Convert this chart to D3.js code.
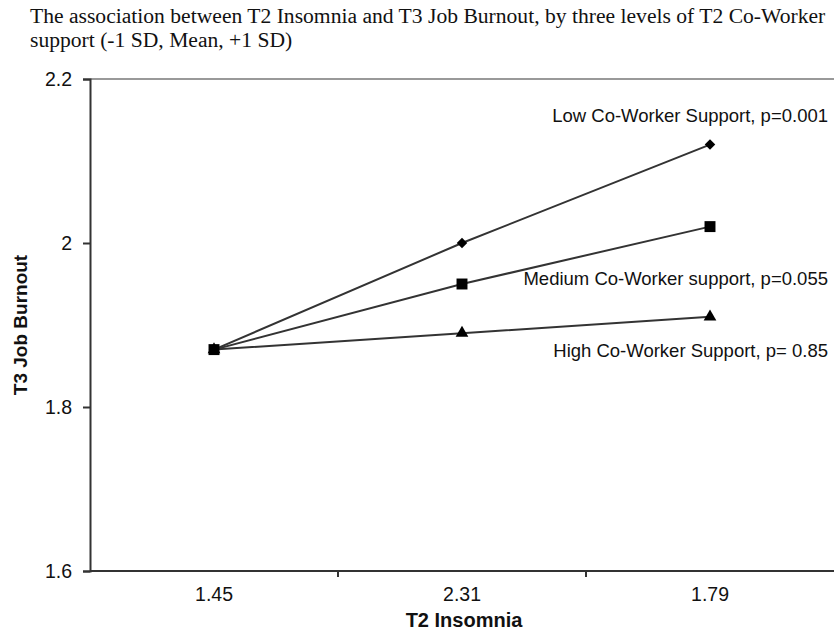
<!DOCTYPE html>
<html>
<head>
<meta charset="utf-8">
<script src="https://cdn.jsdelivr.net/npm/d3@7"></script>
<style>
  body { margin: 0; background: #fff; }
  svg text { fill: #111; }
</style>
</head>
<body>
<div id="chart"></div>
<script>
// data
const categories = ["1.45", "2.31", "1.79"];
const yTicks = [1.6, 1.8, 2.0, 2.2];
const lowSupport = [1.87, 2.0, 2.12];
const medSupport = [1.87, 1.95, 2.02];
const highSupport = [1.87, 1.89, 1.91];
const seriesNames = ["Low Co-Worker Support, p=0.001", "Medium Co-Worker support, p=0.055", "High Co-Worker Support, p= 0.85"];
const titleLines = ["The association between T2 Insomnia and T3 Job Burnout, by three levels of T2 Co-Worker",
                    "support (-1 SD, Mean, +1 SD)"];

const W = 834, H = 634;
const margin = {top: 79, right: 0, bottom: 63, left: 90};
const sans = "'Liberation Sans', Arial, sans-serif";

const svg = d3.select("#chart").append("svg")
  .attr("width", W).attr("height", H);

// title
svg.append("g").selectAll("text")
  .data(titleLines)
  .enter().append("text")
  .attr("x", 30)
  .attr("y", (d, i) => 23 + i * 24)
  .style("font-family", "'Liberation Serif', 'Times New Roman', serif")
  .style("font-size", "21.6px")
  .text(d => d);

const x = d3.scaleBand()
  .domain(categories)
  .range([margin.left, margin.left + 3 * 248]);

const y = d3.scaleLinear()
  .domain([1.6, 2.2])
  .range([H - margin.bottom, margin.top]);

// top gridline
svg.append("line")
  .attr("x1", margin.left).attr("x2", W)
  .attr("y1", y(2.2)).attr("y2", y(2.2))
  .attr("stroke", "#999").attr("stroke-width", 2);

// y axis
const yAxis = svg.append("g")
  .attr("transform", "translate(" + margin.left + ",0)")
  .call(d3.axisLeft(y).tickValues(yTicks).tickSize(7).tickPadding(11)
    .tickFormat(d => d === 2 ? "2" : d3.format(".1f")(d)));
yAxis.select(".domain").attr("stroke", "#333").attr("stroke-width", 2);
yAxis.selectAll(".tick line").attr("stroke", "#333").attr("stroke-width", 2);
yAxis.selectAll("text")
  .style("font-family", sans)
  .style("font-size", "19.5px");

// x axis
const xAxis = svg.append("g")
  .attr("transform", "translate(0," + y(1.6) + ")")
  .call(d3.axisBottom(x).tickSize(0).tickPadding(16));
xAxis.select(".domain").attr("stroke", "#333").attr("stroke-width", 2)
  .attr("d", "M" + margin.left + ",0H" + W);
xAxis.selectAll("text")
  .style("font-family", sans)
  .style("font-size", "19.5px");

// category boundary ticks
svg.append("g").selectAll("line")
  .data(categories.slice(1))
  .enter().append("line")
  .attr("x1", d => x(d)).attr("x2", d => x(d))
  .attr("y1", y(1.6)).attr("y2", y(1.6) + 6)
  .attr("stroke", "#333").attr("stroke-width", 2);

// axis titles
svg.append("text")
  .attr("transform", "translate(27," + (y(1.9)) + ") rotate(-90)")
  .attr("text-anchor", "middle")
  .style("font-family", sans)
  .style("font-size", "19px").style("font-weight", "bold")
  .text("T3 Job Burnout");

svg.append("text")
  .attr("x", x("2.31") + x.bandwidth() / 2 + 2)
  .attr("y", 627)
  .attr("text-anchor", "middle")
  .style("font-family", sans)
  .style("font-size", "20px").style("font-weight", "bold")
  .text("T2 Insomnia");

// series
const series = [
  {name: seriesNames[0], values: lowSupport, symbol: d3.symbolDiamond2, size: 70, dy: -23},
  {name: seriesNames[1], values: medSupport, symbol: d3.symbolSquare, size: 120, dy: 58},
  {name: seriesNames[2], values: highSupport, symbol: d3.symbolTriangle, size: 70, dy: 40}
];

const cx = c => x(c) + x.bandwidth() / 2;

const line = d3.line()
  .x((d, i) => cx(categories[i]))
  .y(d => y(d));

const g = svg.append("g");
series.forEach(s => {
  g.append("path")
    .attr("d", line(s.values))
    .attr("fill", "none")
    .attr("stroke", "#333")
    .attr("stroke-width", 2);
});
series.slice().reverse().forEach(s => {
  g.selectAll(null)
    .data(s.values)
    .enter().append("path")
    .attr("transform", (d, i) => "translate(" + cx(categories[i]) + "," + y(d) + ")")
    .attr("d", d3.symbol().type(s.symbol).size(s.size))
    .attr("fill", "#000");
  g.append("text")
    .attr("x", 828)
    .attr("y", y(s.values[2]) + s.dy)
    .attr("text-anchor", "end")
    .style("font-family", sans)
    .style("font-size", "18.5px")
    .text(s.name);
});
</script>
</body>
</html>
